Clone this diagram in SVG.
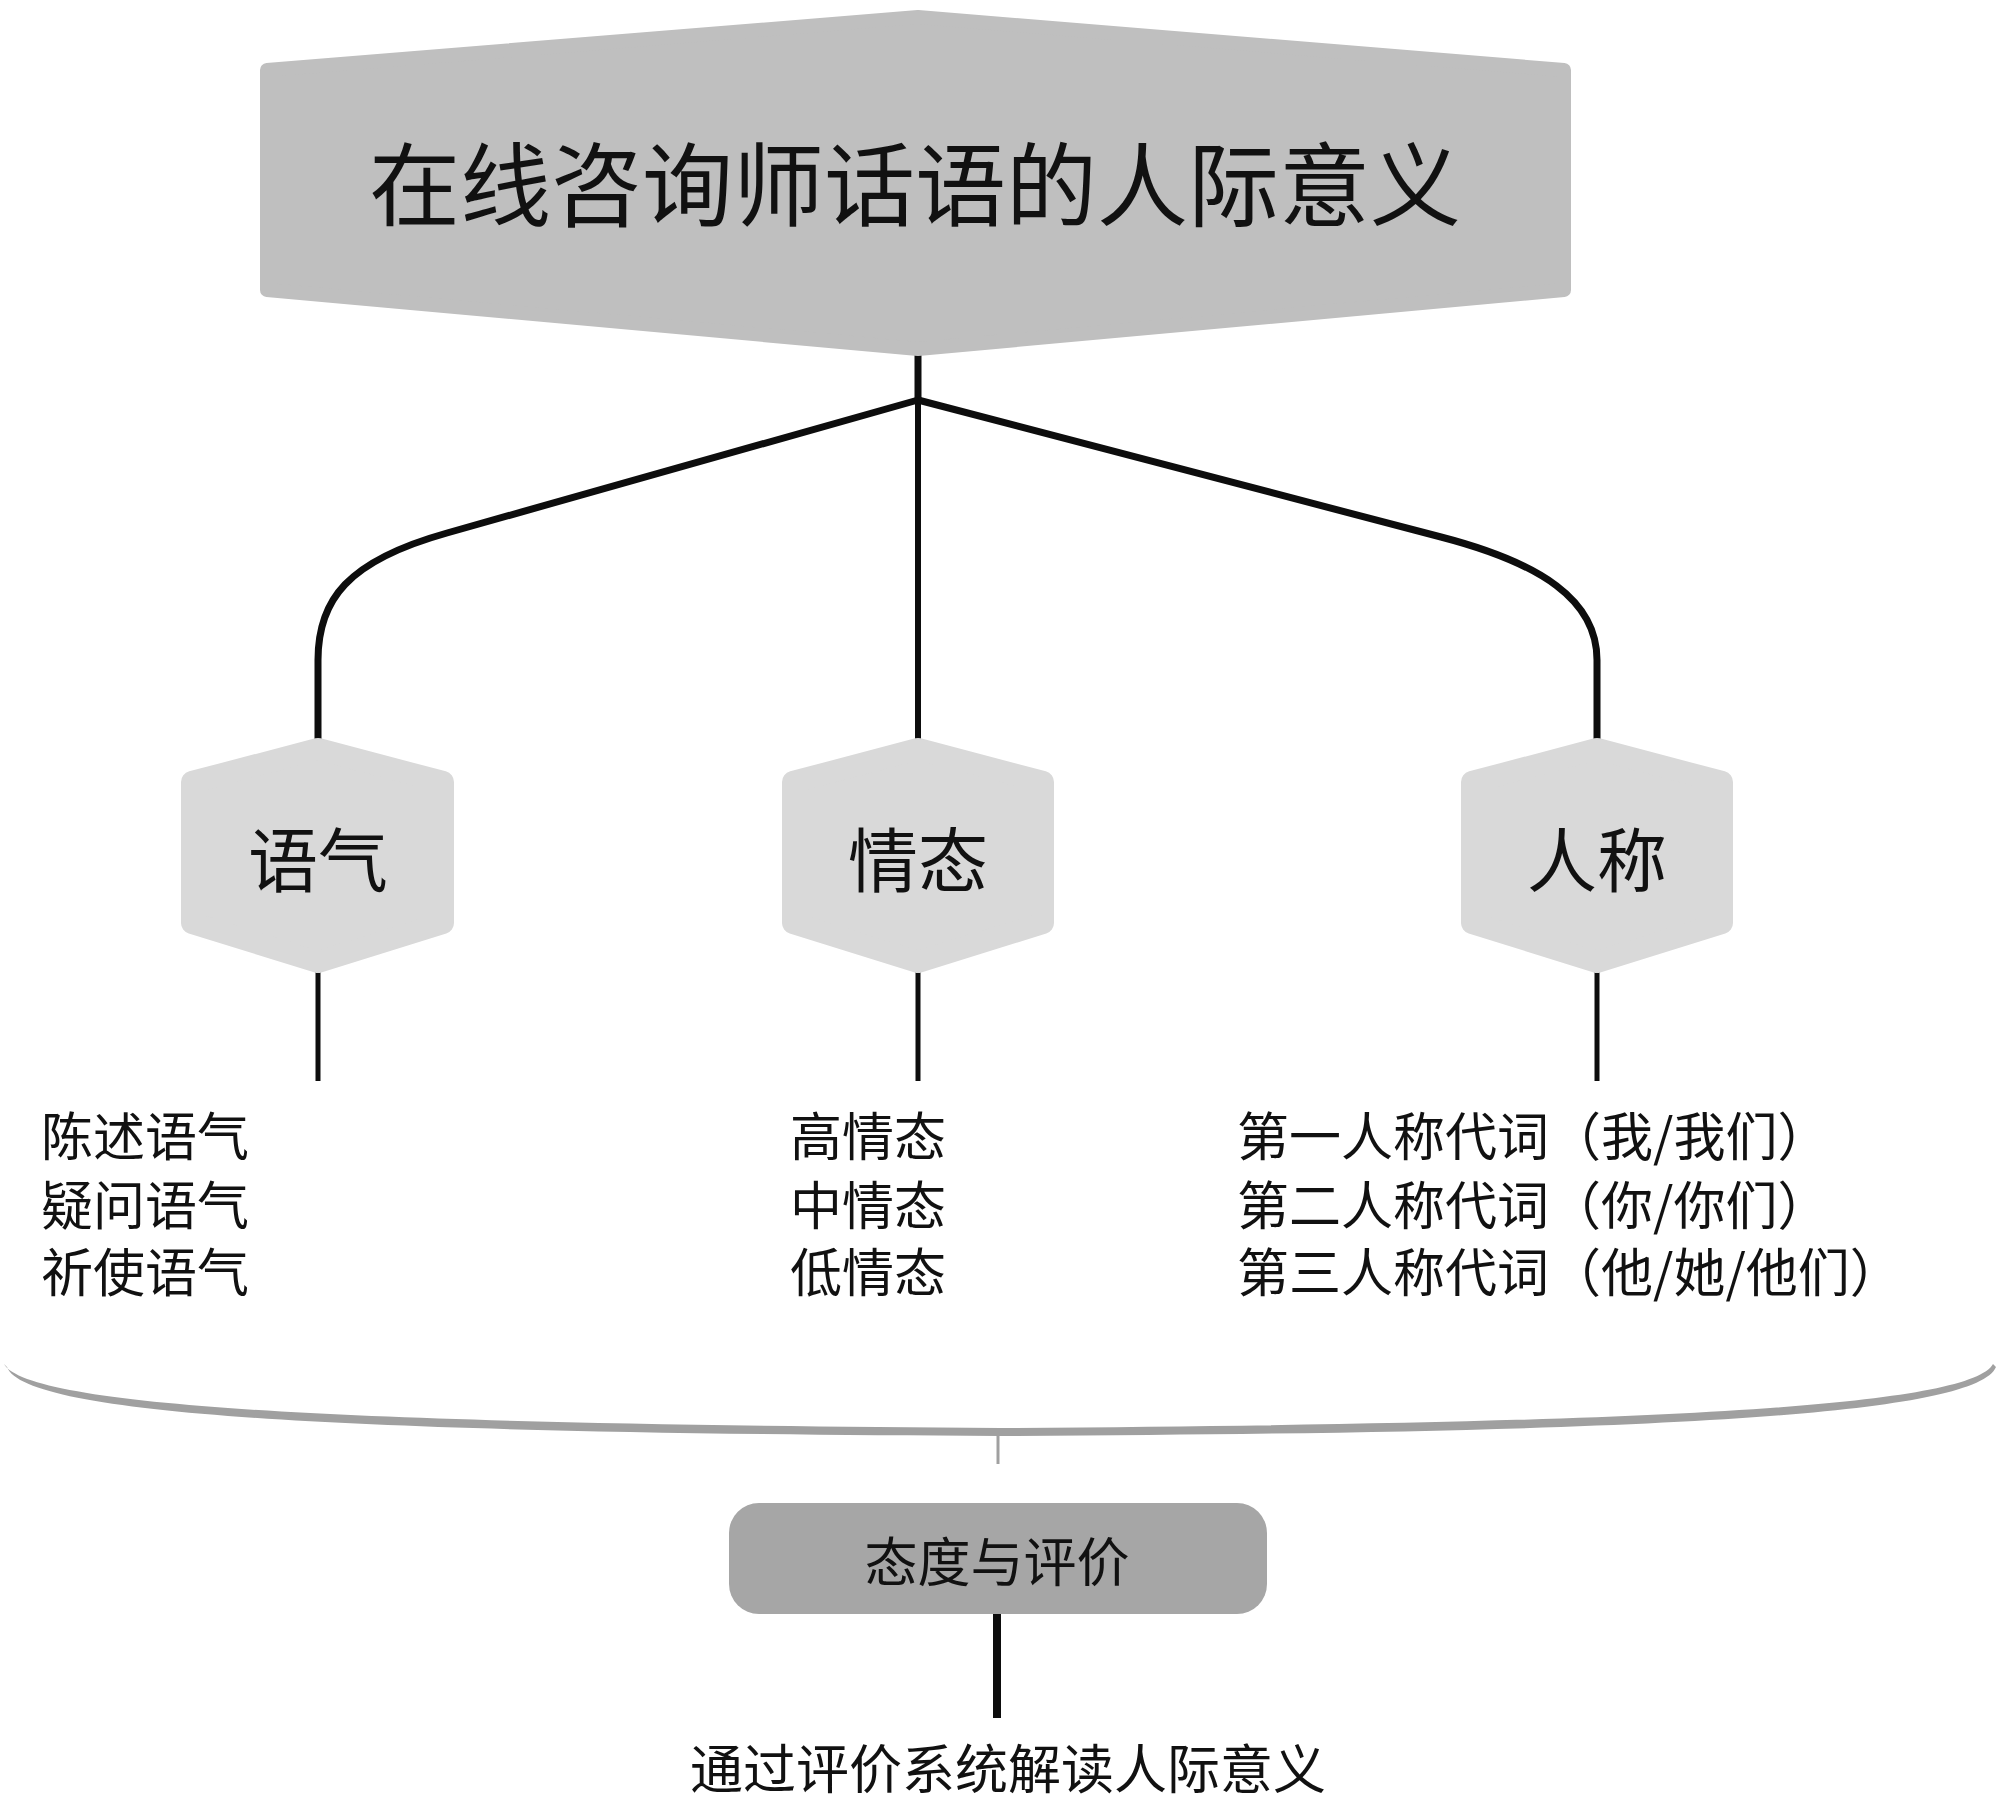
<svg xmlns="http://www.w3.org/2000/svg" width="2000" height="1802" viewBox="0 0 2000 1802">
<style>
  text { font-family: "Noto Sans CJK SC", "Noto Sans CJK TC", sans-serif; fill: #111; }
  .title { font-size: 91px; text-anchor: middle; }
  .cat { font-size: 70px; text-anchor: middle; }
  .item { font-size: 52px; }
  .mid { font-size: 53px; text-anchor: middle; }
  .hexTop { fill: #bfbfbf; stroke: #bfbfbf; stroke-width: 14; stroke-linejoin: round; }
  .hexSm { fill: #d9d9d9; stroke: #d9d9d9; stroke-width: 22; stroke-linejoin: round; }
  .conn { fill: none; stroke: #0d0d0d; stroke-linecap: butt; }
</style>
<rect width="2000" height="1802" fill="#ffffff"/>

<g id="connectors">
  <line class="conn" x1="918" y1="350" x2="918" y2="402" stroke-width="7"/>
  <line class="conn" x1="918" y1="400" x2="918" y2="740" stroke-width="6"/>
  <path class="conn" d="M918,400 L447,533 C347,561 318,600 318,660 L318,740" stroke-width="7"/>
  <path class="conn" d="M918,400 L1441,537 C1541,563 1597,600 1597,660 L1597,740" stroke-width="7"/>
  <line class="conn" x1="318" y1="970" x2="318" y2="1081" stroke-width="5"/>
  <line class="conn" x1="918" y1="970" x2="918" y2="1081" stroke-width="5"/>
  <line class="conn" x1="1597" y1="970" x2="1597" y2="1081" stroke-width="5"/>
  <path id="brace" d="M4,1364 C30,1410 400,1424 1000,1428 C1600,1424 1968,1410 1993,1364 L1996,1367 C1974,1419 1600,1433 1000,1436 C400,1433 26,1419 7,1367 Z" fill="#a0a0a0"/>
  <line x1="998" y1="1432" x2="998" y2="1464" stroke="#a0a0a0" stroke-width="3"/>
  <line class="conn" x1="997" y1="1612" x2="997" y2="1718" stroke-width="8"/>
</g>

<g id="node-title">
  <path class="hexTop" d="M918,17 L1564,70 L1564,290 L918,349 L267,290 L267,70 Z"/>
  <text class="title" x="915" y="219">在线咨询师话语的人际意义</text>
</g>

<g id="node-yuqi">
  <path class="hexSm" d="M318,749 L443,782 L443,923 L318,962 L192,923 L192,782 Z"/>
  <text class="cat" x="318" y="887">语气</text>
</g>
<g id="node-qingtai">
  <path class="hexSm" d="M918,749 L1043,782 L1043,923 L918,962 L793,923 L793,782 Z"/>
  <text class="cat" x="918" y="887">情态</text>
</g>
<g id="node-rencheng">
  <path class="hexSm" d="M1597,749 L1722,782 L1722,923 L1597,962 L1472,923 L1472,782 Z"/>
  <text class="cat" x="1597" y="887">人称</text>
</g>

<g id="list-yuqi">
  <text class="item"><tspan x="41" y="1156">陈述语气</tspan><tspan x="41" y="1225">疑问语气</tspan><tspan x="41" y="1292">祈使语气</tspan></text>
</g>
<g id="list-qingtai">
  <text class="item"><tspan x="790" y="1156">高情态</tspan><tspan x="790" y="1225">中情态</tspan><tspan x="790" y="1292">低情态</tspan></text>
</g>
<g id="list-rencheng">
  <text class="item"><tspan x="1237" y="1156">第一人称代词（我/我们）</tspan><tspan x="1237" y="1225">第二人称代词（你/你们）</tspan><tspan x="1237" y="1292">第三人称代词（他/她/他们）</tspan></text>
</g>

<g id="node-taidu">
  <rect x="729" y="1503" width="538" height="111" rx="30" ry="30" fill="#a6a6a6"/>
  <text class="mid" x="997" y="1582">态度与评价</text>
</g>

<g id="node-bottom">
  <text class="mid" x="1008" y="1789">通过评价系统解读人际意义</text>
</g>
</svg>
